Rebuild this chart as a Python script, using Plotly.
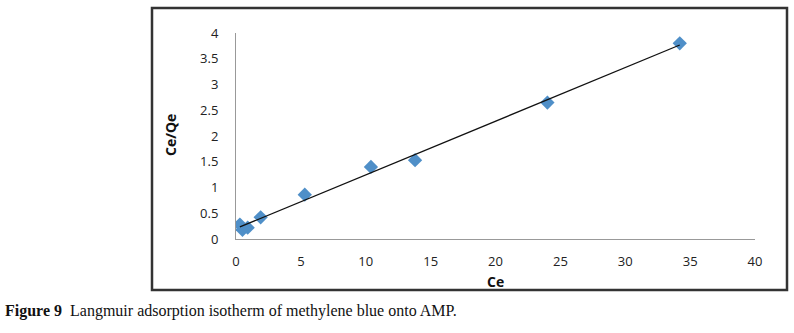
import numpy as np
import plotly.graph_objects as go

# Data
ce = [0.3, 0.5, 0.9, 1.9, 5.3, 10.4, 13.8, 24.0, 34.2]
ce_qe = [0.28, 0.18, 0.22, 0.42, 0.86, 1.40, 1.53, 2.65, 3.80]
x_ticks = [0, 5, 10, 15, 20, 25, 30, 35, 40]
y_ticks = [0, 0.5, 1, 1.5, 2, 2.5, 3, 3.5, 4]
y_tick_text = ["0", "0.5", "1", "1.5", "2", "2.5", "3", "3.5", "4"]

# Linear trendline (least squares, as Excel)
slope, intercept = np.polyfit(ce, ce_qe, 1)
tx = [min(ce), max(ce)]
ty = [slope * v + intercept for v in tx]

W, H = 794, 333
L, R, T, B = 236, 755, 33, 239
pw, ph = R - L, B - T


def px(x):
    return (x - L) / pw


def py(y):
    return (B - y) / ph


fig = go.Figure()
fig.add_trace(go.Scatter(
    x=ce, y=ce_qe, mode="markers",
    marker=dict(symbol="diamond", size=11, color="#4F8FC8",
                line=dict(width=0)),
    showlegend=False, hoverinfo="skip"))
fig.add_trace(go.Scatter(
    x=tx, y=ty, mode="lines",
    line=dict(color="#111111", width=1.3),
    showlegend=False, hoverinfo="skip"))

tick_font = dict(family="Open Sans, Liberation Sans, sans-serif", size=13, color="#222222")

fig.update_layout(
    width=W, height=H,
    margin=dict(l=L, r=W - R, t=T, b=H - B, pad=0),
    paper_bgcolor="white", plot_bgcolor="white",
    xaxis=dict(range=[0, 40], tickvals=x_ticks, showgrid=False, zeroline=False,
               showline=True, linecolor="#999999", linewidth=1, ticks="",
               tickfont=tick_font, ticklabelstandoff=10, fixedrange=True),
    yaxis=dict(range=[0, 4], tickvals=y_ticks, ticktext=y_tick_text, showgrid=False,
               zeroline=False, showline=True, linecolor="#999999", linewidth=1,
               ticks="", tickfont=tick_font, ticklabelstandoff=14, fixedrange=True),
    shapes=[dict(type="rect", xref="paper", yref="paper",
                 x0=px(152), x1=px(787), y0=py(290), y1=py(8),
                 line=dict(color="#333333", width=2.5), layer="above")],
    annotations=[
        dict(text="<b>Ce/Qe</b>", xref="paper", yref="paper", x=px(170), y=py(135),
             showarrow=False, textangle=-90, xanchor="center", yanchor="middle",
             font=dict(family="Open Sans, Liberation Sans, sans-serif", size=14, color="#111111")),
        dict(text="<b>Ce</b>", xref="paper", yref="paper", x=px(495), y=py(281),
             showarrow=False, xanchor="center", yanchor="middle",
             font=dict(family="Open Sans, Liberation Sans, sans-serif", size=14, color="#111111")),
        dict(text="<b>Figure 9</b>  Langmuir adsorption isotherm of methylene blue onto AMP.",
             xref="paper", yref="paper", x=px(3), y=py(311),
             showarrow=False, xanchor="left", yanchor="middle",
             font=dict(family="Liberation Serif, serif", size=16, color="#111111")),
    ],
)

fig.write_html("out.html",
               config={"displayModeBar": False, "staticPlot": True},
               post_script="document.body.style.margin='0';document.body.style.padding='0';")
